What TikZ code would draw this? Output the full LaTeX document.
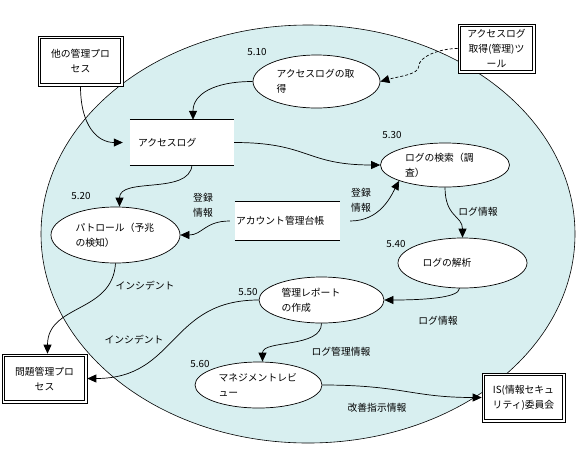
\documentclass[tikz,border=0pt]{standalone}
\usepackage{fontspec}
\setmainfont{Noto Sans CJK JP}
\usepackage{tikz}
\usetikzlibrary{positioning,arrows.meta,shapes.geometric}
\usepackage{xcolor}
\definecolor{pool}{HTML}{D8EFF0}

\tikzset{
  proc/.style={ellipse,draw,fill=white,line width=0.7pt,inner sep=0pt,text width=80pt,align=left},
  extbox/.style={draw,fill=white,line width=0.6pt,inner sep=0pt,align=center},
  store/.style={fill=white,inner sep=0pt,inner xsep=8pt,text width=88pt,minimum height=45pt,align=left},
  flow/.style={line width=0.7pt,-{Triangle[length=9pt,width=8pt]}},
  lbl/.style={inner sep=0pt,align=center},
}

\begin{document}
\begin{tikzpicture}[x=1pt,y=-1pt,font=\fontsize{9.8}{15}\selectfont]
  \useasboundingbox (0,0) rectangle (578,448);
  % system boundary
  \draw[fill=pool,line width=0.6pt] (308,234) ellipse [x radius=267,y radius=209];

  % external entities
  \node[extbox,minimum width=85pt,minimum height=50pt] (ext1) at (80.5,61) {他の管理プロ\\セス};
  \node[extbox,minimum width=77pt,minimum height=49pt] (tool) at (496.5,48.5) {アクセスログ\\取得(管理)ツ\\ール};
  \node[extbox,minimum width=85pt,minimum height=49pt] (prob) at (44.5,378.5) {問題管理プロ\\セス};
  \node[extbox,minimum width=83pt,minimum height=49pt] (isc) at (523.5,397.5) {IS(情報セキュ\\リティ)委員会};
  \foreach \b in {ext1,tool,prob,isc}
    \draw[line width=1.3pt] ([shift={(2.5pt,2.5pt)}]\b.south west) rectangle ([shift={(-2.5pt,-2.5pt)}]\b.north east);

  % processes
  \node[proc,minimum width=127pt,minimum height=53pt] (p10) at (316.5,81.5) {アクセスログの取\\得};
  \node[proc,minimum width=129pt,minimum height=44pt] (p30) at (445,165) {ログの検索（調\\査）};
  \node[proc,minimum width=129pt,minimum height=56pt] (p20) at (115.5,235) {パトロール（予兆\\の検知）};
  \node[proc,minimum width=129pt,minimum height=50pt] (p40) at (462.5,263) {ログの解析};
  \node[proc,minimum width=125pt,minimum height=46pt] (p50) at (321.5,300) {管理レポート\\の作成};
  \node[proc,minimum width=127pt,minimum height=46pt] (p60) at (258.5,385) {マネジメントレビ\\ュー};

  \node[lbl] (n10) at (257,52) {5.10};
  \node[lbl] (n30) at (392,135) {5.30};
  \node[lbl] (n20) at (81,196) {5.20};
  \node[lbl] (n40) at (396,244) {5.40};
  \node[lbl] (n50) at (248,292) {5.50};
  \node[lbl] (n60) at (200,364) {5.60};

  % data stores
  \node[store] (alog) at (182,142.5) {アクセスログ};
  \node[store,inner xsep=1pt,text width=103pt,minimum height=38pt] (acct) at (287.5,221) {アカウント管理台帳};
  \foreach \s in {alog,acct}
    \draw[line width=0.7pt] (\s.north west) -- (\s.north east) (\s.south west) -- (\s.south east);

  % flows
  \draw[flow] (ext1.south) .. controls +(0,40) and +(-25,0) .. ([xshift=-7pt]alog.west);
  \draw[flow,dash pattern=on 3pt off 2pt] (tool.west) .. controls +(-18,0) and +(0,-10) .. ++(-39,18)
    .. controls +(0,8) and +(18,-5) .. (p10.east);
  \draw[flow] (p10.west) .. controls +(-40,0) and +(0,-25) .. ([xshift=11pt]alog.north);
  \draw[flow] (alog.east) .. controls +(75,0) and +(-75,0) .. (p30.west);
  \draw[flow] ([xshift=10pt]alog.south) .. controls +(-3,30) and +(0,-30) .. ([xshift=4pt]p20.north);
  \draw[flow] ([xshift=-5pt]acct.west) .. controls +(-25,0) and +(22,0) .. (p20.east);
  \draw[flow] ([xshift=10pt]acct.east) .. controls +(30,0) and +(-8,15) .. (p30.south west);
  \draw[flow] (p30.south) .. controls +(0,30) and +(0,-22) .. (p40.north);
  \draw[flow] ([xshift=-3pt]p40.south) .. controls +(0,10) and +(35,0) .. (p50.east);
  \draw[flow] (p50.south) .. controls +(0,25) and +(0,-22) .. ([xshift=4pt]p60.north);
  \draw[flow] (p60.east) .. controls +(80,0) and +(-70,0) .. (isc.west);
  \draw[flow] (p20.south) .. controls +(-3,50) and +(0,-50) .. ([xshift=3pt]prob.north);
  \draw[flow] (p50.west) .. controls +(-90,0) and +(90,0) .. (prob.east);

  \node[lbl] (f1) at (203,205) {登録\\情報};
  \node[lbl] (f2) at (361,200) {登録\\情報};
  \node[lbl] (f3) at (478,212) {ログ情報};
  \node[lbl] (f4) at (438,321) {ログ情報};
  \node[lbl] (f5) at (341,352) {ログ管理情報};
  \node[lbl] (f6) at (377,408) {改善指示情報};
  \node[lbl] (f7) at (145,286) {インシデント};
  \node[lbl] (f8) at (134,340) {インシデント};
\end{tikzpicture}
\end{document}
